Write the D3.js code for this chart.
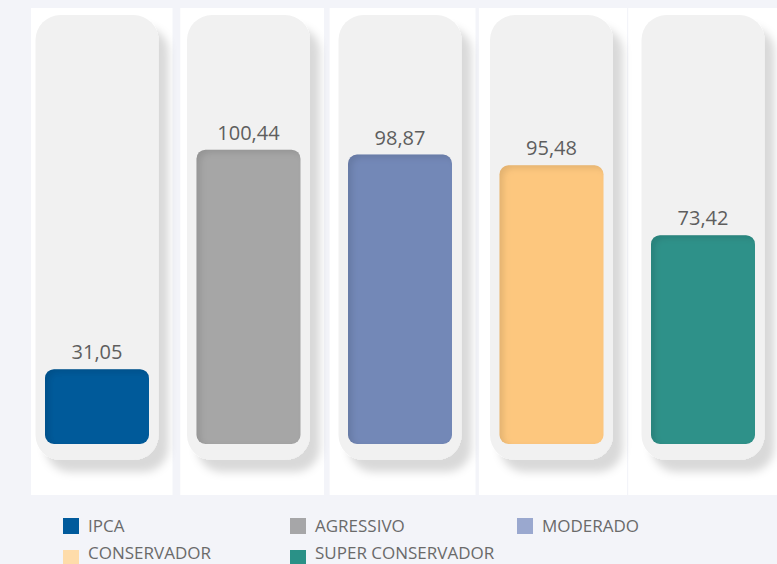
<!DOCTYPE html>
<html>
<head>
<meta charset="utf-8">
<script src="https://cdn.jsdelivr.net/npm/d3@7"></script>
<style>
    body { margin: 0; background: #f3f4f9; font-family: "Open Sans", "Noto Sans", sans-serif; }
    #chart { width: 777px; height: 564px; }
</style>
</head>
<body>
<div id="chart"></div>
<script>
const categories = ["IPCA", "AGRESSIVO", "MODERADO", "CONSERVADOR", "SUPER CONSERVADOR"];
const values = [31.05, 100.44, 98.87, 95.48, 73.42];
const valueLabels = ["31,05", "100,44", "98,87", "95,48", "73,42"];
const barColors = ["#005a9a", "#a6a6a6", "#7388b7", "#fdc77e", "#2f9189"];
const legendColors = ["#005a9c", "#a6a6a8", "#9aa8cf", "#fedcaa", "#2a9187"];

class TubeChart {
    constructor(_parentElement) {
        this.parentElement = _parentElement;
        this.initVis();
    }

    initVis() {
        const vis = this;

        vis.WIDTH = 777;
        vis.HEIGHT = 564;
        vis.BAR_W = 104;
        vis.TRACK_W = 123;
        vis.TRACK_TOP = 15;
        vis.TRACK_BOTTOM = 460;
        vis.BASE = 444;

        vis.svg = d3.select(vis.parentElement).append("svg")
            .attr("width", vis.WIDTH)
            .attr("height", vis.HEIGHT);

        const defs = vis.svg.append("defs");

        // drop shadow for the grey tubes
        const drop = defs.append("filter").attr("id", "tube-shadow")
            .attr("x", "-20%").attr("y", "-10%").attr("width", "150%").attr("height", "130%");
        drop.append("feGaussianBlur").attr("in", "SourceAlpha").attr("stdDeviation", 4);
        drop.append("feOffset").attr("dx", 10).attr("dy", 12).attr("result", "ob");
        drop.append("feFlood").attr("flood-color", "#000").attr("flood-opacity", 0.15);
        drop.append("feComposite").attr("in2", "ob").attr("operator", "in").attr("result", "sh");
        const m = drop.append("feMerge");
        m.append("feMergeNode").attr("in", "sh");
        m.append("feMergeNode").attr("in", "SourceGraphic");

        // inset shadow for the coloured bars
        const inset = defs.append("filter").attr("id", "bar-inset");
        inset.append("feOffset").attr("in", "SourceAlpha").attr("dx", 4).attr("dy", 3);
        inset.append("feGaussianBlur").attr("stdDeviation", 3).attr("result", "ob");
        inset.append("feComposite").attr("operator", "out").attr("in", "SourceGraphic").attr("in2", "ob").attr("result", "inv");
        inset.append("feFlood").attr("flood-color", "#000").attr("flood-opacity", 0.22).attr("result", "col");
        inset.append("feComposite").attr("operator", "in").attr("in", "col").attr("in2", "inv").attr("result", "sh");
        inset.append("feComposite").attr("operator", "over").attr("in", "sh").attr("in2", "SourceGraphic");

        vis.x = d3.scalePoint().domain(categories).range([97, 703]);
        vis.y = d3.scaleLinear().domain([7.4, 143]).range([vis.BASE, vis.TRACK_TOP]);

        vis.updateVis();
    }

    updateVis() {
        const vis = this;
        const data = categories.map((c, i) => ({ cat: c, i: i, value: values[i], label: valueLabels[i], color: barColors[i] }));

        // white panels behind each tube
        const panelLeft = d => vis.x(d.cat) - 66 - d.i * 2.2;
        const panelRight = d => Math.min(vis.WIDTH, vis.x(d.cat) + 75.5);
        vis.svg.selectAll(".panel").data(data).join("rect")
            .attr("class", "panel")
            .attr("x", panelLeft)
            .attr("y", 8)
            .attr("width", d => panelRight(d) - panelLeft(d))
            .attr("height", 487)
            .attr("fill", "#ffffff");

        // grey tubes
        vis.svg.selectAll(".track").data(data).join("rect")
            .attr("class", "track")
            .attr("x", d => vis.x(d.cat) - vis.TRACK_W / 2)
            .attr("y", vis.TRACK_TOP)
            .attr("width", vis.TRACK_W)
            .attr("height", vis.TRACK_BOTTOM - vis.TRACK_TOP)
            .attr("rx", 25)
            .attr("fill", "#f1f1f1")
            .attr("filter", "url(#tube-shadow)");

        // coloured bars
        vis.svg.selectAll(".bar").data(data).join("rect")
            .attr("class", "bar")
            .attr("x", d => vis.x(d.cat) - vis.BAR_W / 2)
            .attr("y", d => vis.y(d.value))
            .attr("width", vis.BAR_W)
            .attr("height", d => vis.BASE - vis.y(d.value))
            .attr("rx", 9)
            .attr("fill", d => d.color)
            .attr("filter", "url(#bar-inset)");

        // value labels
        vis.svg.selectAll(".val").data(data).join("text")
            .attr("class", "val")
            .attr("x", d => vis.x(d.cat))
            .attr("y", d => vis.y(d.value) - 10)
            .attr("text-anchor", "middle")
            .style("font-size", "20px")
            .style("fill", "#5e5e5e")
            .text(d => d.label);

        // legend
        const legend = vis.svg.append("g").attr("class", "legend");
        const cols = [63, 290, 517];
        categories.forEach((c, i) => {
            const row = Math.floor(i / 3);
            const lx = cols[i % 3];
            const baseline = row === 0 ? 532 : 559;
            legend.append("rect")
                .attr("x", lx).attr("y", row === 0 ? 518 : 550)
                .attr("width", 16).attr("height", 16)
                .attr("fill", legendColors[i]);
            legend.append("text")
                .attr("x", lx + 25).attr("y", baseline)
                .style("font-size", "17px")
                .style("fill", "#6a6a6a")
                .text(c);
        });
    }
}

new TubeChart("#chart");
</script>
</body>
</html>
